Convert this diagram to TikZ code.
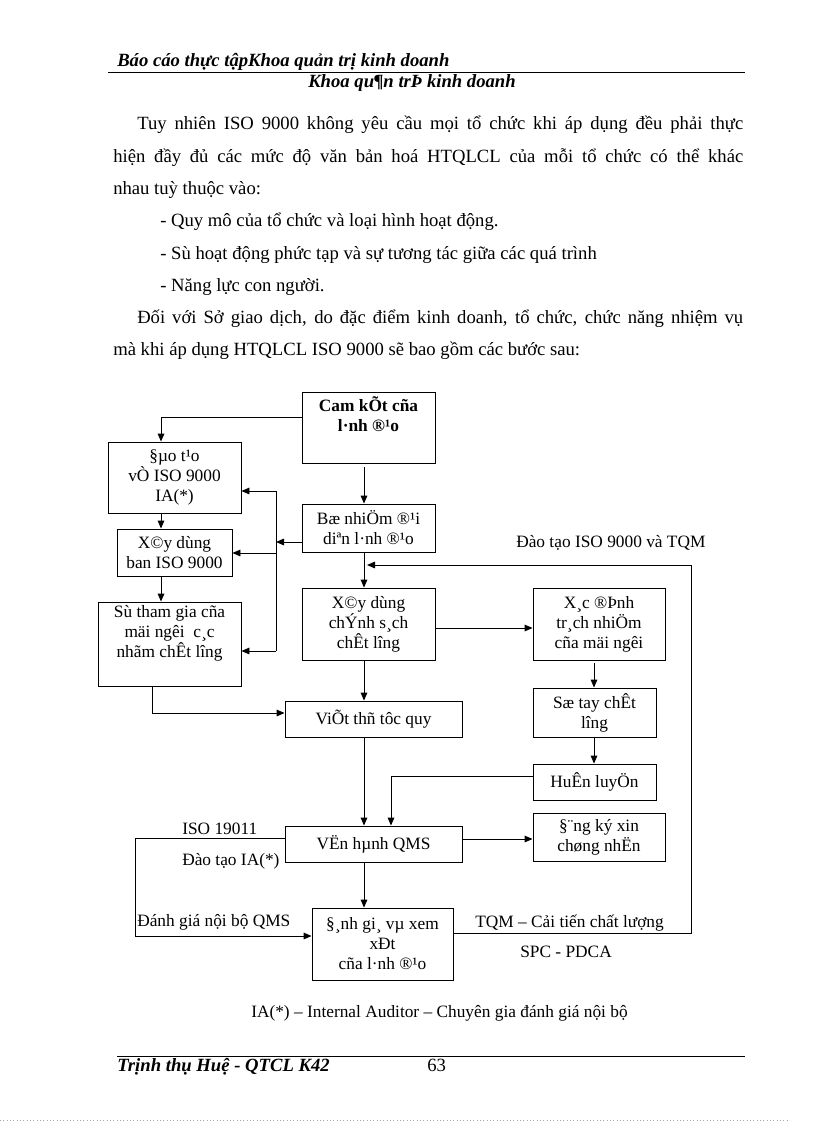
\documentclass[tikz,border=0pt]{standalone}
\usepackage{fontspec}
\setmainfont{Liberation Serif}
\usetikzlibrary{arrows.meta}
\newcommand\myBodyFont{\fontsize{14}{16}\selectfont}
\newcommand\myBoxFont{\fontsize{13}{15}\selectfont}
\begin{document}
\begin{tikzpicture}[x=0.75pt,y=-0.75pt,
  box/.style={draw=black, line width=0.7pt, inner sep=1pt, align=center, font=\myBoxFont},
  bxs/.style 2 args={minimum width=#1*0.75pt, minimum height=#2*0.75pt},
  arr/.style={-{Triangle[length=6pt,width=5pt]}, line width=0.7pt},
  ln/.style={line width=0.7pt},
  lbl/.style={anchor=base west, inner sep=0pt, font=\myBoxFont},
  body/.style={anchor=base west, inner sep=0pt, font=\myBodyFont},
  hdr/.style={anchor=base west, inner sep=0pt, font=\myBodyFont\bfseries\itshape},
  rule/.style={line width=0.6pt}]
\fill[white] (0,0) rectangle (816,1123);
\useasboundingbox (0,0) rectangle (816,1123);

% header
\node[hdr] (h1) at (117,67) {Báo cáo thực tậpKhoa quản trị kinh doanh};
\coordinate (hrA) at (108,72); \coordinate (hrB) at (745,72);
\draw[rule] (hrA) -- (hrB);
\node[hdr] (h2) at (308,88) {Khoa qu¶n trÞ kinh doanh};

% body text
\node[body] (t1) at (137,130) {\makebox[454.5pt][s]{Tuy nhiên ISO 9000 không yêu cầu mọi tổ chức khi áp dụng đều phải thực}};
\node[body] (t2) at (113,163) {\makebox[472.5pt][s]{hiện đầy đủ các mức độ văn bản hoá HTQLCL của mỗi tổ chức có thể khác}};
\node[body] (t3) at (113,195) {nhau tuỳ thuộc vào:};
\node[body] (t4) at (160,227) {- Quy mô của tổ chức và loại hình hoạt động.};
\node[body] (t5) at (160,259) {- Sù hoạt động phức tạp và sự tương tác giữa các quá trình};
\node[body] (t6) at (160,291) {- Năng lực con người.};
\node[body] (t7) at (137,323) {\makebox[454.5pt][s]{Đối với Sở giao dịch, do đặc điểm kinh doanh, tổ chức, chức năng nhiệm vụ}};
\node[body] (t8) at (113,355) {mà khi áp dụng HTQLCL ISO 9000 sẽ bao gồm các bước sau:};

% boxes
\node[box, bxs={133}{71}, font=\myBoxFont\bfseries] (cam) at (368.5,427.5) {Cam kÕt cña\\l·nh ®¹o\\\strut};
\node[box, bxs={133}{71}] (dao) at (174.5,477.5) {§µo t¹o\\vÒ ISO 9000\\IA(*)};
\node[box, bxs={115}{47}] (xdban) at (174.5,552.5) {X©y dùng\\ban ISO 9000};
\node[box, bxs={143}{84}] (sutham) at (169.5,644) {Sù tham gia cña\\mäi ngêi\ \ c¸c\\nhãm chÊt lîng\\\strut};
\node[box, bxs={133}{48}] (bonhiem) at (368.5,528) {Bæ nhiÖm ®¹i\\diªn l·nh ®¹o};
\node[box, bxs={133}{72}] (csach) at (368.5,624) {X©y dùng\\chÝnh s¸ch\\chÊt lîng};
\node[box, bxs={132}{72}] (xacdinh) at (599,624) {X¸c ®Þnh\\tr¸ch nhiÖm\\cña mäi ngêi};
\node[box, bxs={123}{49}] (sotay) at (594.5,712.5) {Sæ tay chÊt\\lîng};
\node[box, bxs={123}{36}] (huan) at (594.5,782) {HuÊn luyÖn};
\node[box, bxs={177}{36}] (viet) at (373.5,719) {ViÕt thñ tôc quy};
\node[box, bxs={177}{36}] (vanhanh) at (373.5,844) {VËn hµnh QMS};
\node[box, bxs={132}{48}] (dangky) at (599,837) {§¨ng ký xin\\chøng nhËn};
\node[box, bxs={141}{72}] (danhgia) at (382.5,944) {§¸nh gi¸ vµ xem\\xÐt\\cña l·nh ®¹o};

% labels
\node[lbl] (lDao) at (516,547) {Đào tạo ISO 9000 và TQM};
\node[lbl] (lIso) at (182,834) {ISO 19011};
\node[lbl] (lIA) at (182,865) {Đào tạo IA(*)};
\node[lbl] (lDG) at (137,926) {Đánh giá nội bộ QMS};
\node[lbl] (lTQM) at (475,927) {TQM – Cải tiến chất lượng};
\node[lbl] (lSPC) at (520,957) {SPC - PDCA};

% connectors
\draw[arr] (cam.west |- 0,417) -| (161,0 |- dao.north);
\draw[arr, shorten <=3pt] (364,0 |- cam.south) -- (364,0 |- bonhiem.north);
\draw[arr] (161,0 |- dao.south) -- (161,0 |- xdban.north);
\draw[arr] (161,0 |- xdban.south) -- (161,0 |- sutham.north);
\coordinate (busT) at (276,491);
\coordinate (busM) at (276,553);
\coordinate (busB) at (276,651);
\draw[ln] (busT) -- (busB);
\draw[arr] (busT) -- (dao.east |- busT);
\draw[arr] (busM) -- (xdban.east |- busM);
\draw[arr] (busB) -- (sutham.east |- busB);
\draw[arr] (bonhiem.west |- 0,542) -- (276,542);
\draw[arr] (364,0 |- bonhiem.south) -- (364,0 |- csach.north);
\coordinate (fbR) at (691,565);
\coordinate (fbL) at (367,565);
\draw[arr] (danhgia.east |- 0,933) -| (fbR) -- (fbL);
\draw[arr] (csach.east |- 0,628) -- (xacdinh.west |- 0,628);
\draw[arr, shorten <=2pt] (594,0 |- xacdinh.south) -- (594,0 |- sotay.north);
\draw[arr] (594,0 |- sotay.south) -- (594,0 |- huan.north);
\draw[arr] (364,0 |- csach.south) -- (364,0 |- viet.north);
\draw[arr] (152,0 |- sutham.south) |- (viet.west |- 0,713);
\draw[arr] (364,0 |- viet.south) -- (364,0 |- vanhanh.north);
\draw[arr] (huan.west |- 0,776) -| (391,0 |- vanhanh.north);
\draw[arr] (vanhanh.east |- 0,839) -- (dangky.west |- 0,839);
\coordinate (lbend) at (135,838);
\draw[arr] (vanhanh.west |- lbend) -- (lbend) |- (danhgia.west |- 0,936);
\draw[arr] (364,0 |- vanhanh.south) -- (364,0 |- danhgia.north);

% footnote
\node[lbl] (foot) at (251,1017) {IA(*) – Internal Auditor – Chuyên gia đánh giá nội bộ};

% footer
\coordinate (frA) at (117,1056); \coordinate (frB) at (745,1056);
\draw[rule] (frA) -- (frB);
\node[hdr] (f1) at (117,1071) {Trịnh thụ Huệ - QTCL K42};
\node[body] (f2) at (427,1071) {63};
\coordinate (dA) at (0,1120); \coordinate (dB) at (790,1120);
\draw[black!35, dotted, line width=0.5pt] (dA) -- (dB);
\end{tikzpicture}
\end{document}
